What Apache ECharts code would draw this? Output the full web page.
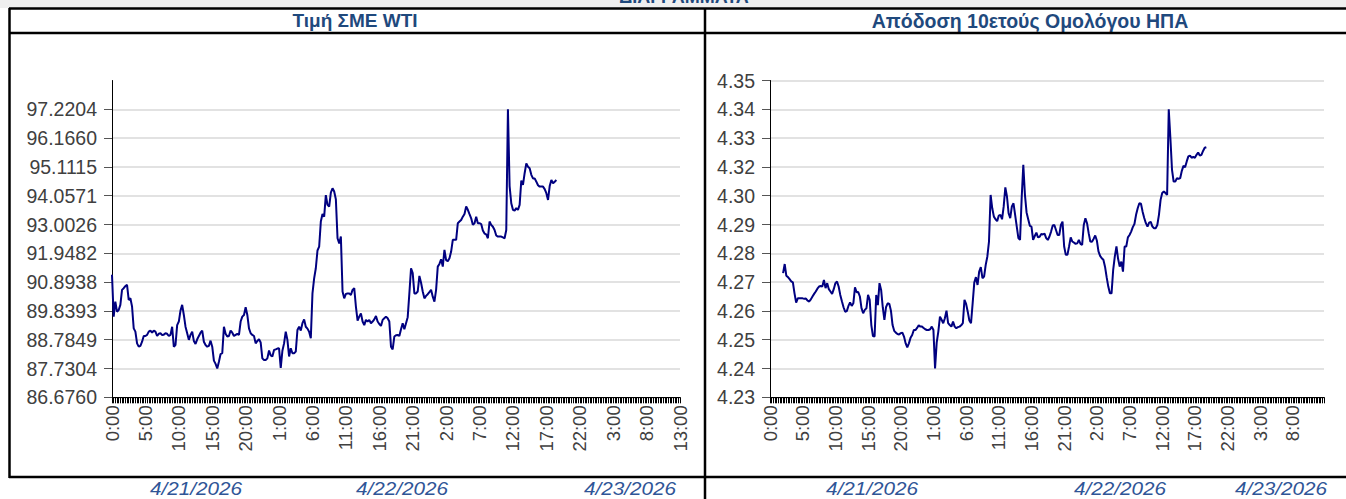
<!DOCTYPE html>
<html><head><meta charset="utf-8">
<script src="https://cdn.jsdelivr.net/npm/echarts@6/dist/echarts.min.js"></script>
<style>html,body{margin:0;padding:0;background:#fff}#c{width:1346px;height:499px}</style>
</head><body><div id="c"></div>
<script>
// ---- Data ----
const panelTitles = ['Τιμή ΣΜΕ WTI', 'Απόδοση 10ετούς Ομολόγου ΗΠΑ'];
const sheetTitle = 'ΔΙΑΓΡΑΜΜΑΤΑ';
const dateLabels = ['4/21/2026', '4/22/2026', '4/23/2026'];
const wtiYTicks = [86.6760, 87.7304, 88.7849, 89.8393, 90.8938, 91.9482, 93.0026, 94.0571, 95.1115, 96.1660, 97.2204];
const wtiYLabels = ['86.6760', '87.7304', '88.7849', '89.8393', '90.8938', '91.9482', '93.0026', '94.0571', '95.1115', '96.1660', '97.2204'];
const ustYTicks = [4.2275, 4.2385, 4.2495, 4.2605, 4.2715, 4.2825, 4.2935, 4.3045, 4.3155, 4.3265, 4.3375, 4.3485];
const ustYLabels = ['4.23', '4.24', '4.25', '4.26', '4.27', '4.28', '4.29', '4.30', '4.32', '4.33', '4.34', '4.35'];
const wtiSlotCount = 341;   // 15-minute slots on the WTI category axis
const ustSlotCount = 340;   // 15-minute slots on the UST category axis
const wtiValues = [
 91.16,89.63,90.18,89.81,89.87,90.06,90.61,90.67,90.75,90.79,
 90.24,90.30,90.00,89.20,89.08,88.65,88.53,88.56,88.71,88.92,
 88.92,88.96,89.08,89.12,89.04,89.12,89.08,88.92,89.00,89.02,
 88.96,88.97,89.02,89.00,88.92,88.96,89.26,88.53,88.59,89.32,
 89.45,89.85,90.06,89.69,89.26,89.02,88.78,88.96,89.08,88.74,
 88.63,88.80,88.92,89.04,89.12,88.71,88.59,88.53,88.56,88.75,
 88.53,88.02,87.90,87.7304,87.98,88.26,88.29,89.26,89.00,88.90,
 88.92,89.12,89.04,88.92,88.96,89.00,88.96,89.45,89.63,89.69,
 89.97,89.69,89.20,89.02,88.96,88.92,88.65,88.74,88.80,88.68,
 88.10,88.04,88.04,88.10,88.39,88.21,88.17,88.41,88.43,88.46,
 88.47,87.75,88.38,88.65,89.08,88.78,88.17,88.47,88.29,88.29,
 88.35,89.14,89.26,89.12,89.39,89.53,89.26,89.19,89.08,88.84,
 90.48,91.03,91.40,92.05,92.19,93.11,93.39,93.29,94.08,93.72,
 93.66,94.17,94.33,94.21,93.93,92.50,92.31,92.56,90.55,90.30,
 90.46,90.48,90.48,90.42,90.61,90.67,90.00,89.48,89.63,89.75,
 89.45,89.32,89.51,89.45,89.51,89.39,89.45,89.53,89.65,89.45,
 89.36,89.29,89.51,89.57,89.63,89.57,89.45,88.53,88.43,88.90,
 88.95,88.96,88.92,89.17,89.39,89.17,89.39,89.61,90.48,91.40,
 91.22,90.48,90.48,90.55,91.12,90.87,90.55,90.30,90.39,90.45,
 90.53,90.61,90.36,90.18,90.61,91.46,91.56,91.73,91.46,92.07,
 91.70,91.66,91.77,92.01,92.44,92.44,92.44,93.05,93.11,93.17,
 93.29,93.39,93.66,93.54,93.38,93.23,92.99,93.05,93.29,93.05,
 93.05,93.02,92.78,92.67,92.64,92.50,93.11,92.99,92.92,92.80,
 92.60,92.56,92.56,92.56,92.53,92.50,92.80,97.2204,94.41,93.78,
 93.54,93.51,93.60,93.54,93.72,94.61,94.45,94.88,95.24,95.12,
 95.06,94.82,94.69,94.69,94.57,94.44,94.39,94.39,94.39,94.30,
 94.15,93.90,94.41,94.63,94.51,94.57,94.63
];
const ustValues = [
 null,null,null,null,null,null,null,null,
 4.2749,4.2784,4.2739,4.2734,4.2726,4.2718,4.2714,4.2672,4.2637,4.2653,
 4.2653,4.2653,4.2653,4.2651,4.2652,4.2644,4.2641,4.2649,4.2660,4.2670,
 4.2679,4.2690,4.2698,4.2700,4.2698,4.2723,4.2692,4.2711,4.2688,4.2679,
 4.2670,4.2688,4.2711,4.2717,4.2698,4.2666,4.2642,4.2619,4.2602,4.2604,
 4.2624,4.2637,4.2624,4.2634,4.2695,4.2676,4.2677,4.2660,4.2615,4.2596,
 4.2609,4.2615,4.2666,4.2647,4.2551,4.2509,4.2507,4.2666,4.2627,4.2711,
 4.2685,4.2619,4.2571,4.2619,4.2634,4.2632,4.2606,4.2551,4.2529,4.2522,
 4.2517,4.2515,4.2520,4.2522,4.2507,4.2481,4.2466,4.2481,4.2502,4.2513,
 4.2532,4.2532,4.2540,4.2550,4.2545,4.2545,4.2540,4.2535,4.2532,4.2532,
 4.2535,4.2545,4.2532,4.2385,4.2484,4.2526,4.2583,4.2571,4.2558,4.2577,
 4.2606,4.2558,4.2551,4.2545,4.2564,4.2545,4.2539,4.2543,4.2545,4.2550,
 4.2558,4.2647,4.2632,4.2602,4.2568,4.2558,4.2634,4.2713,4.2734,4.2704,
 4.2755,4.2772,4.2730,4.2736,4.2781,4.2813,4.2870,4.3048,4.2997,4.2965,
 4.2955,4.2948,4.2969,4.2972,4.2955,4.3004,4.3077,4.3042,4.2978,4.2959,
 4.3004,4.3016,4.2972,4.2927,4.2883,4.2876,4.3035,4.3163,4.3048,4.2981,
 4.2955,4.2930,4.2927,4.2876,4.2891,4.2904,4.2886,4.2888,4.2899,4.2897,
 4.2900,4.2883,4.2876,4.2889,4.2908,4.2931,4.2933,4.2914,4.2895,4.2895,
 4.2933,4.2946,4.2851,4.2819,4.2819,4.2851,4.2886,4.2870,4.2866,4.2861,
 4.2863,4.2876,4.2861,4.2857,4.2933,4.2959,4.2940,4.2902,4.2870,4.2869,
 4.2880,4.2893,4.2874,4.2832,4.2815,4.2806,4.2800,4.2774,4.2734,4.2698,
 4.2672,4.2672,4.2762,4.2813,4.2851,4.2804,4.2774,4.2793,4.2755,4.2851,
 4.2851,4.2886,4.2895,4.2908,4.2925,4.2937,4.2972,4.2997,4.3016,4.3014,
 4.2984,4.2960,4.2940,4.2927,4.2942,4.2945,4.2927,4.2921,4.2921,4.2933,
 4.2972,4.3029,4.3055,4.3061,4.3055,4.3048,4.3375,4.3265,4.3144,4.3099,
 4.3099,4.3112,4.3109,4.3112,4.3140,4.3159,4.3154,4.3176,4.3195,4.3198,
 4.3190,4.3193,4.3190,4.3201,4.3210,4.3198,4.3201,4.3216,4.3228,4.3230
];

// ---- Build ----
function slots(n) {
  const a = [];
  for (let i = 0; i < n; i++) {
    const m = i * 15;
    a.push((Math.floor(m / 60) % 24) + ':' + String(m % 60).padStart(2, '0'));
  }
  return a;
}
const wtiCategories = slots(wtiSlotCount);
const ustCategories = slots(ustSlotCount);

function labelFor(ticks, labels) {
  return function (v) {
    let best = 0;
    for (let i = 1; i < ticks.length; i++) {
      if (Math.abs(ticks[i] - v) < Math.abs(ticks[best] - v)) best = i;
    }
    return labels[best];
  };
}

const FONT = '"Liberation Sans", Arial, sans-serif';
const AXIS_TXT = '#404040';
const TITLE_COL = '#1F497D';
const DATE_COL = '#2F5597';

function xAxisCfg(gridIndex, cats) {
  return {
    type: 'category', gridIndex: gridIndex, data: cats, boundaryGap: false,
    axisLine: { show: true, onZero: false, lineStyle: { color: '#000', width: 1 } },
    axisTick: { show: true, interval: 0, length: 6, lineStyle: { color: '#000', width: 1 } },
    axisLabel: { interval: 19, rotate: 90, margin: 8, color: AXIS_TXT, fontFamily: FONT, fontSize: 18.5, hideOverlap: false },
    splitLine: { show: false }
  };
}
function yAxisCfg(gridIndex, min, max, ticks, labels) {
  return {
    type: 'value', gridIndex: gridIndex, min: min, max: max,
    axisLine: { show: true, lineStyle: { color: '#000', width: 1 } },
    axisTick: { show: true, length: 8, customValues: ticks, lineStyle: { color: '#555', width: 1 } },
    axisLabel: { customValues: ticks, formatter: labelFor(ticks, labels), margin: 15, color: AXIS_TXT, fontFamily: FONT, fontSize: 19.5 },
    splitLine: { show: true, lineStyle: { color: '#d9d9d9', width: 1.5 } }
  };
}

function dateText(x, s) {
  return { type: 'text', x: x, y: 488.5, scaleX: 1.15, style: { text: s, fill: DATE_COL, font: 'italic 18px ' + FONT, textAlign: 'center', textVerticalAlign: 'middle' } };
}

const borderStyle = { stroke: '#000', lineWidth: 2.5 };
const option = {
  animation: false,
  backgroundColor: '#fff',
  grid: [
    { left: 112, top: 80.5, right: 1346 - 680, bottom: 499 - 397.3 },
    { left: 770, top: 80.5, right: 1346 - 1324, bottom: 499 - 397.3 }
  ],
  xAxis: [xAxisCfg(0, wtiCategories), xAxisCfg(1, ustCategories)],
  yAxis: [
    yAxisCfg(0, 86.6760, 98.2748, wtiYTicks, wtiYLabels),
    yAxisCfg(1, 4.2275, 4.3485, ustYTicks, ustYLabels)
  ],
  series: [
    { type: 'line', xAxisIndex: 0, yAxisIndex: 0, data: wtiValues, showSymbol: false, lineStyle: { color: '#000080', width: 2 }, itemStyle: { color: '#000080' } },
    { type: 'line', xAxisIndex: 1, yAxisIndex: 1, data: ustValues, showSymbol: false, connectNulls: false, lineStyle: { color: '#000080', width: 2 }, itemStyle: { color: '#000080' } }
  ],
  graphic: [
    { type: 'rect', shape: { x: 0, y: 0, width: 1346, height: 8 }, style: { fill: '#efefef' }, silent: true },
    { type: 'text', x: 684, y: 5.5, style: { text: sheetTitle, fill: TITLE_COL, font: 'bold 18px ' + FONT, textAlign: 'center', textVerticalAlign: 'bottom' } },
    { type: 'text', x: 355, y: 20.5, style: { text: panelTitles[0], fill: TITLE_COL, font: 'bold 19px ' + FONT, textAlign: 'center', textVerticalAlign: 'middle' } },
    { type: 'text', x: 1030, y: 20.5, style: { text: panelTitles[1], fill: TITLE_COL, font: 'bold 19.5px ' + FONT, textAlign: 'center', textVerticalAlign: 'middle' } },
    { type: 'line', shape: { x1: 9, y1: 8.5, x2: 1346, y2: 8.5 }, style: borderStyle },
    { type: 'line', shape: { x1: 9, y1: 33, x2: 1346, y2: 33 }, style: borderStyle },
    { type: 'line', shape: { x1: 9, y1: 477, x2: 1346, y2: 477 }, style: borderStyle },
    { type: 'line', shape: { x1: 9.5, y1: 8, x2: 9.5, y2: 478 }, style: borderStyle },
    { type: 'line', shape: { x1: 705, y1: 8, x2: 705, y2: 499 }, style: borderStyle },
    dateText(196, dateLabels[0]),
    dateText(402, dateLabels[1]),
    dateText(630, dateLabels[2]),
    dateText(872, dateLabels[0]),
    dateText(1120, dateLabels[1]),
    dateText(1281, dateLabels[2])
  ]
};
const chart = echarts.init(document.getElementById('c'), null, { renderer: 'svg', width: 1346, height: 499 });
chart.setOption(option);
</script>
</body></html>
